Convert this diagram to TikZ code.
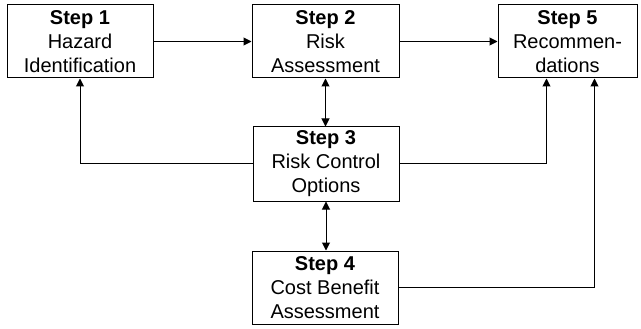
\documentclass[tikz,border=0pt]{standalone}
\usepackage{fontspec}
\setmainfont{Liberation Sans}
\usetikzlibrary{arrows.meta,calc}
\begin{document}
\begin{tikzpicture}[x=1pt,y=-1pt,
  stepbox/.style={draw,line width=1pt,minimum height=73pt,inner sep=0pt,align=center,
    font=\fontsize{20}{24}\selectfont},
  conn/.style={line width=1pt,-{Triangle[length=8pt,width=8pt]}},
  conn2/.style={line width=1pt,{Triangle[length=8pt,width=8pt]}-{Triangle[length=8pt,width=8pt]}}]
\useasboundingbox (0,0) rectangle (641,329);
\node[stepbox,minimum width=146pt] (b1) at (80,41.5) {\textbf{Step 1}\\Hazard\\Identification};
\node[stepbox,minimum width=147pt] (b2) at (325.5,41.5) {\textbf{Step 2}\\Risk\\Assessment};
\node[stepbox,minimum width=139pt] (b5) at (567.5,41.5) {\textbf{Step 5}\\Recommen-\\dations};
\node[stepbox,minimum width=146pt,minimum height=74pt] (b3) at (326,164) {\textbf{Step 3}\\Risk Control\\Options};
\node[stepbox,minimum width=146pt] (b4) at (325,287.5) {\textbf{Step 4}\\Cost Benefit\\Assessment};
\coordinate (p5a) at ($(b5.south west)+(49,0)$);
\coordinate (p5b) at ($(b5.south west)+(97,0)$);
\draw[conn] (b1.east) -- (b2.west);
\draw[conn] (b2.east) -- (b5.west);
\draw[conn2] (b2.south) -- (b2.south |- b3.north);
\draw[conn2] (b3.south) -- (b3.south |- b4.north);
\draw[conn] (b3.west) -| (b1.south);
\draw[conn] (b3.east) -| (p5a);
\draw[conn] (b4.east) -| (p5b);
\end{tikzpicture}
\end{document}
